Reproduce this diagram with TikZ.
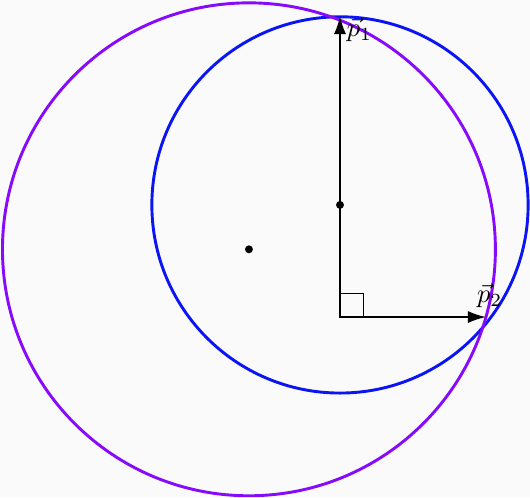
\documentclass[tikz,border=0pt]{standalone}
\usepackage{amsmath,amssymb}
\usepackage{tikz}
\usetikzlibrary{positioning,arrows.meta,calc}
\usepackage{xcolor}
\definecolor{circblue}{RGB}{10,20,245}
\definecolor{circviolet}{RGB}{135,10,250}

\begin{document}
\begin{tikzpicture}[
  vec/.style={-{Latex[length=2.4mm,width=1.6mm]}, line width=0.65pt},
  circ/.style={line width=1.1pt},
  dot/.style={circle, fill=black, inner sep=0pt, minimum size=3pt}
]
\fill[white!98!black] (-4.518,-2.392) rectangle (2.525,4.213);
\useasboundingbox (-4.518,-2.392) rectangle (2.525,4.213);

\coordinate (O) at (0,0);
\coordinate (p1) at (0,4);
\coordinate (p2) at (1.94,0);
\node[dot] (cb) at (0,1.49) {};
\node[dot] (cv) at (-1.21,0.9) {};

\draw[circ, circblue] (cb) circle (2.5);
\draw[circ, circviolet] (cv) circle (3.275);

\draw[line width=0.45pt] (O) rectangle (0.31,0.31);
\draw[vec] (O) -- (p1);
\draw[vec] (O) -- (p2);

\node[anchor=north west, inner sep=1pt] (lp1) at ($(p1)+(0.05,0.02)$) {$\vec{p}_1$};
\node[anchor=south, inner sep=1pt] (lp2) at ($(p2)+(0.05,0.08)$) {$\vec{p}_2$};
\end{tikzpicture}
\end{document}
